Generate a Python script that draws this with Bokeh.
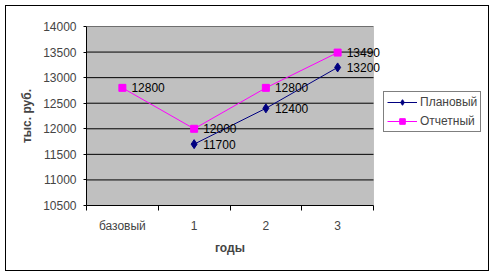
from bokeh.plotting import figure
from bokeh.models import (ColumnDataSource, FixedTicker, LabelSet, Legend, LegendItem,
                          BoxAnnotation, Range1d, InlineStyleSheet, Title)
from bokeh.core.properties import value
from bokeh.embed import file_html
from bokeh.resources import INLINE

categories = ["базовый", "1", "2", "3"]
plan_years = ["1", "2", "3"]
plan_values = [11700, 12400, 13200]
actual_years = ["базовый", "1", "2", "3"]
actual_values = [12800, 12000, 12800, 13490]
y_ticks = [10500, 11000, 11500, 12000, 12500, 13000, 13500, 14000]

pos = {c: i + 0.5 for i, c in enumerate(categories)}
n = len(categories)

FONT = "Liberation Sans"

# frame extends past the grey plot area to hold the legend and overhanging labels
FRAME_L, FRAME_R, AREA_R = 86, 482, 373
x_end = n * (FRAME_R - FRAME_L) / (AREA_R - FRAME_L)

p = figure(width=493, height=276, output_backend="svg", toolbar_location=None,
           x_range=Range1d(0, x_end), y_range=Range1d(10500, 14000),
           min_border_left=FRAME_L, min_border_right=493 - FRAME_R,
           min_border_top=26, min_border_bottom=71)
p.background_fill_color = "white"
p.border_fill_color = "white"
p.outline_line_color = None
p.stylesheets = [InlineStyleSheet(css=""":host::after {
  content: ""; position: absolute; left: 5px; top: 5px; width: 484px; height: 266px;
  box-sizing: border-box; border: 1px solid black; pointer-events: none; z-index: 100;
}""")]

# grey plot area
p.add_layout(BoxAnnotation(left=0, right=n, bottom=10500, top=14000,
                           fill_color="#C0C0C0", fill_alpha=1,
                           line_color="#808080", line_width=1, level="underlay"))

# grid lines (drawn across the plot area only)
p.xgrid.visible = False
p.ygrid.visible = False
p.segment(x0=[0] * (len(y_ticks) - 1), x1=[n] * (len(y_ticks) - 1),
          y0=y_ticks[1:], y1=y_ticks[1:], line_color="black", line_width=1)

# x axis
xa = p.xaxis[0]
xa.bounds = (0, n)
xa.ticker = FixedTicker(ticks=[pos[c] for c in categories],
                        minor_ticks=list(range(n + 1)))
xa.major_label_overrides = {pos[c]: c for c in categories}
xa.major_tick_line_color = None
xa.major_tick_out = 5
xa.major_tick_in = 0
xa.minor_tick_line_color = "black"
xa.minor_tick_out = 5
xa.minor_tick_in = 0
xa.major_label_standoff = 8
xa.axis_line_color = "black"
xa.major_label_text_font = FONT
xa.major_label_text_font_size = "12px"

# x axis title, centred under the grey plot area
x_title = "годы"
p.add_layout(Title(text=x_title, align="left", offset=(AREA_R - FRAME_L) / 2 - 15,
                   text_font=FONT, text_font_size="12px", text_font_style="bold",
                   standoff=6), "below")

# y axis
ya = p.yaxis[0]
ya.ticker = FixedTicker(ticks=y_ticks)
ya.minor_tick_line_color = None
ya.major_tick_out = 3
ya.major_tick_in = 0
ya.major_label_standoff = 7
ya.axis_line_color = "black"
ya.axis_label = "тыс. руб."
ya.axis_label_standoff = 6
ya.axis_label_text_font = FONT
ya.axis_label_text_font_size = "12px"
ya.axis_label_text_font_style = "bold"
ya.major_label_text_font = FONT
ya.major_label_text_font_size = "12px"

plan_src = ColumnDataSource(dict(x=[pos[c] for c in plan_years], y=plan_values,
                                 t=[str(v) for v in plan_values]))
act_src = ColumnDataSource(dict(x=[pos[c] for c in actual_years], y=actual_values,
                                t=[str(v) for v in actual_values]))

pl = p.line("x", "y", source=plan_src, line_color="#000080", line_width=1)
pm = p.scatter("x", "y", source=plan_src, marker="diamond", size=9,
               fill_color="#000080", line_color="#000080")
al = p.line("x", "y", source=act_src, line_color="#FF00FF", line_width=1)
am = p.scatter("x", "y", source=act_src, marker="square", size=7,
               fill_color="#FF00FF", line_color="#FF00FF")

for src in (plan_src, act_src):
    p.add_layout(LabelSet(x="x", y="y", text="t", source=src, x_offset=9, y_offset=0,
                          text_baseline="middle", text_font=value(FONT),
                          text_font_size=value("12px"), text_color="black"))

legend = Legend(items=[LegendItem(label="Плановый", renderers=[pl, pm]),
                       LegendItem(label="Отчетный", renderers=[al, am])],
                location=(383 - FRAME_L, 205 - 132))
legend.border_line_color = "black"
legend.border_line_width = 1
legend.background_fill_color = "white"
legend.background_fill_alpha = 1
legend.label_text_font = FONT
legend.label_text_font_size = "12px"
legend.glyph_width = 30
legend.glyph_height = 14
legend.label_standoff = 3
legend.label_height = 14
legend.spacing = 5
legend.padding = 3
legend.margin = 0
p.add_layout(legend, "center")

open("out.html", "w").write(file_html(p, INLINE))
